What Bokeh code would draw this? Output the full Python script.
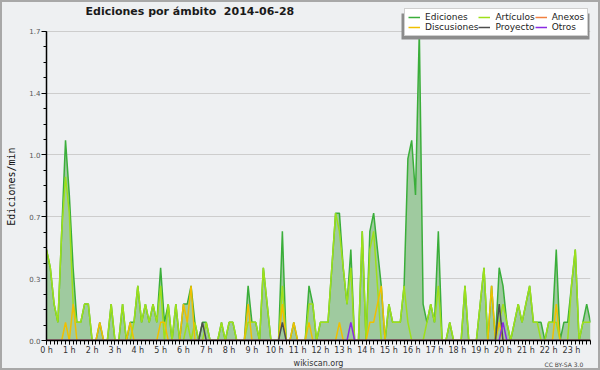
import numpy as np
from bokeh.plotting import figure
from bokeh.layouts import column
from bokeh.models import FixedTicker, Label, Legend, LegendItem, Range1d, BoxAnnotation
from bokeh.embed import file_html
from bokeh.resources import INLINE

# ---- data: edits per minute, one value per 10-minute slot (00:00 .. 23:50) ----
ediciones = [
    0.5, 0.4, 0.2, 0.1, 0.6, 1.1, 0.8, 0.4, 0.1, 0.1, 0.2, 0.2,
    0.0, 0.0, 0.1, 0.0, 0.0, 0.2, 0.0, 0.0, 0.2, 0.0, 0.1, 0.1,
    0.3, 0.1, 0.2, 0.1, 0.2, 0.1, 0.4, 0.1, 0.2, 0.0, 0.2, 0.0,
    0.2, 0.2, 0.3, 0.1, 0.0, 0.1, 0.1, 0.0, 0.0, 0.0, 0.1, 0.0,
    0.1, 0.1, 0.0, 0.0, 0.0, 0.3, 0.1, 0.1, 0.0, 0.4, 0.2, 0.0,
    0.0, 0.0, 0.6, 0.0, 0.0, 0.1, 0.0, 0.0, 0.0, 0.3, 0.2, 0.0,
    0.1, 0.1, 0.1, 0.4, 0.7, 0.7, 0.4, 0.2, 0.5, 0.0, 0.0, 0.6,
    0.0, 0.6, 0.7, 0.5, 0.3, 0.0, 0.2, 0.1, 0.1, 0.1, 0.3, 1.0,
    1.1, 0.8, 1.7, 0.2, 0.1, 0.2, 0.1, 0.6, 0.0, 0.0, 0.1, 0.0,
    0.0, 0.0, 0.3, 0.0, 0.0, 0.0, 0.2, 0.4, 0.0, 0.3, 0.0, 0.4,
    0.3, 0.1, 0.0, 0.1, 0.2, 0.1, 0.2, 0.3, 0.1, 0.1, 0.1, 0.0,
    0.1, 0.1, 0.5, 0.0, 0.1, 0.1, 0.3, 0.5, 0.0, 0.1, 0.2, 0.1,
]
articulos = [
    0.5, 0.4, 0.2, 0.1, 0.6, 0.9, 0.7, 0.2, 0.1, 0.1, 0.2, 0.2,
    0.0, 0.0, 0.0, 0.0, 0.0, 0.2, 0.0, 0.0, 0.2, 0.0, 0.0, 0.1,
    0.3, 0.1, 0.2, 0.1, 0.2, 0.1, 0.3, 0.0, 0.2, 0.0, 0.2, 0.0,
    0.0, 0.1, 0.0, 0.1, 0.0, 0.0, 0.1, 0.0, 0.0, 0.0, 0.1, 0.0,
    0.1, 0.1, 0.0, 0.0, 0.0, 0.1, 0.1, 0.1, 0.0, 0.4, 0.2, 0.0,
    0.0, 0.0, 0.3, 0.0, 0.0, 0.0, 0.0, 0.0, 0.0, 0.2, 0.2, 0.0,
    0.1, 0.1, 0.1, 0.4, 0.7, 0.6, 0.4, 0.2, 0.4, 0.0, 0.0, 0.6,
    0.0, 0.5, 0.6, 0.3, 0.0, 0.0, 0.2, 0.1, 0.1, 0.1, 0.3, 0.1,
    0.0, 0.0, 0.0, 0.0, 0.1, 0.2, 0.1, 0.3, 0.0, 0.0, 0.1, 0.0,
    0.0, 0.0, 0.3, 0.0, 0.0, 0.0, 0.2, 0.4, 0.0, 0.0, 0.0, 0.1,
    0.2, 0.1, 0.0, 0.1, 0.2, 0.1, 0.2, 0.3, 0.1, 0.1, 0.0, 0.0,
    0.1, 0.1, 0.1, 0.0, 0.0, 0.0, 0.3, 0.5, 0.0, 0.1, 0.1, 0.1,
]
discusiones = [
    0.0, 0.0, 0.0, 0.0, 0.0, 0.1, 0.0, 0.2, 0.0, 0.0, 0.0, 0.0,
    0.0, 0.0, 0.1, 0.0, 0.0, 0.0, 0.0, 0.0, 0.0, 0.0, 0.1, 0.0,
    0.0, 0.0, 0.0, 0.0, 0.0, 0.0, 0.1, 0.1, 0.0, 0.0, 0.0, 0.0,
    0.2, 0.1, 0.3, 0.0, 0.0, 0.0, 0.0, 0.0, 0.0, 0.0, 0.0, 0.0,
    0.0, 0.0, 0.0, 0.0, 0.0, 0.2, 0.0, 0.0, 0.0, 0.0, 0.0, 0.0,
    0.0, 0.0, 0.2, 0.0, 0.0, 0.1, 0.0, 0.0, 0.0, 0.1, 0.0, 0.0,
    0.0, 0.0, 0.0, 0.0, 0.0, 0.1, 0.0, 0.0, 0.0, 0.0, 0.0, 0.0,
    0.0, 0.1, 0.1, 0.2, 0.3, 0.0, 0.0, 0.0, 0.0, 0.0, 0.0, 0.0,
    0.0, 0.0, 0.0, 0.0, 0.0, 0.0, 0.0, 0.0, 0.0, 0.0, 0.0, 0.0,
    0.0, 0.0, 0.0, 0.0, 0.0, 0.0, 0.0, 0.0, 0.0, 0.3, 0.0, 0.1,
    0.0, 0.0, 0.0, 0.0, 0.0, 0.0, 0.0, 0.0, 0.0, 0.0, 0.0, 0.0,
    0.0, 0.0, 0.2, 0.0, 0.0, 0.0, 0.0, 0.0, 0.0, 0.0, 0.0, 0.0,
]
anexos = [
    0.0, 0.0, 0.0, 0.0, 0.0, 0.0, 0.0, 0.0, 0.0, 0.0, 0.0, 0.0,
    0.0, 0.0, 0.0, 0.0, 0.0, 0.0, 0.0, 0.0, 0.0, 0.0, 0.0, 0.0,
    0.0, 0.0, 0.0, 0.0, 0.0, 0.0, 0.0, 0.0, 0.0, 0.0, 0.0, 0.0,
    0.0, 0.0, 0.0, 0.0, 0.0, 0.0, 0.0, 0.0, 0.0, 0.0, 0.0, 0.0,
    0.0, 0.0, 0.0, 0.0, 0.0, 0.0, 0.0, 0.0, 0.0, 0.0, 0.0, 0.0,
    0.0, 0.0, 0.0, 0.0, 0.0, 0.0, 0.0, 0.0, 0.0, 0.0, 0.0, 0.0,
    0.0, 0.0, 0.0, 0.0, 0.0, 0.0, 0.0, 0.0, 0.0, 0.0, 0.0, 0.0,
    0.0, 0.0, 0.0, 0.0, 0.0, 0.0, 0.0, 0.0, 0.0, 0.0, 0.0, 0.0,
    0.0, 0.0, 0.0, 0.0, 0.0, 0.0, 0.0, 0.0, 0.0, 0.0, 0.0, 0.0,
    0.0, 0.0, 0.0, 0.0, 0.0, 0.0, 0.0, 0.0, 0.0, 0.0, 0.0, 0.0,
    0.0, 0.0, 0.0, 0.0, 0.0, 0.0, 0.0, 0.0, 0.0, 0.0, 0.0, 0.0,
    0.0, 0.0, 0.0, 0.0, 0.0, 0.0, 0.0, 0.0, 0.0, 0.0, 0.0, 0.0,
]
proyecto = [
    0.0, 0.0, 0.0, 0.0, 0.0, 0.0, 0.0, 0.0, 0.0, 0.0, 0.0, 0.0,
    0.0, 0.0, 0.0, 0.0, 0.0, 0.0, 0.0, 0.0, 0.0, 0.0, 0.0, 0.0,
    0.0, 0.0, 0.0, 0.0, 0.0, 0.0, 0.0, 0.0, 0.0, 0.0, 0.0, 0.0,
    0.0, 0.0, 0.0, 0.0, 0.0, 0.1, 0.0, 0.0, 0.0, 0.0, 0.0, 0.0,
    0.0, 0.0, 0.0, 0.0, 0.0, 0.0, 0.0, 0.0, 0.0, 0.0, 0.0, 0.0,
    0.0, 0.0, 0.1, 0.0, 0.0, 0.0, 0.0, 0.0, 0.0, 0.0, 0.0, 0.0,
    0.0, 0.0, 0.0, 0.0, 0.0, 0.0, 0.0, 0.0, 0.0, 0.0, 0.0, 0.0,
    0.0, 0.0, 0.0, 0.0, 0.0, 0.0, 0.0, 0.0, 0.0, 0.0, 0.0, 0.0,
    0.0, 0.0, 0.0, 0.0, 0.0, 0.0, 0.0, 0.0, 0.0, 0.0, 0.0, 0.0,
    0.0, 0.0, 0.0, 0.0, 0.0, 0.0, 0.0, 0.0, 0.0, 0.0, 0.0, 0.2,
    0.0, 0.0, 0.0, 0.0, 0.0, 0.0, 0.0, 0.0, 0.0, 0.0, 0.0, 0.0,
    0.0, 0.0, 0.0, 0.0, 0.0, 0.0, 0.0, 0.0, 0.0, 0.0, 0.0, 0.0,
]
otros = [
    0.0, 0.0, 0.0, 0.0, 0.0, 0.0, 0.0, 0.0, 0.0, 0.0, 0.0, 0.0,
    0.0, 0.0, 0.0, 0.0, 0.0, 0.0, 0.0, 0.0, 0.0, 0.0, 0.0, 0.0,
    0.0, 0.0, 0.0, 0.0, 0.0, 0.0, 0.0, 0.0, 0.0, 0.0, 0.0, 0.0,
    0.0, 0.0, 0.0, 0.0, 0.0, 0.0, 0.0, 0.0, 0.0, 0.0, 0.0, 0.0,
    0.0, 0.0, 0.0, 0.0, 0.0, 0.0, 0.0, 0.0, 0.0, 0.0, 0.0, 0.0,
    0.0, 0.0, 0.0, 0.0, 0.0, 0.0, 0.0, 0.0, 0.0, 0.0, 0.0, 0.0,
    0.0, 0.0, 0.0, 0.0, 0.0, 0.0, 0.0, 0.0, 0.1, 0.0, 0.0, 0.0,
    0.0, 0.0, 0.0, 0.0, 0.0, 0.0, 0.0, 0.0, 0.0, 0.0, 0.0, 0.0,
    0.0, 0.0, 0.0, 0.0, 0.0, 0.0, 0.0, 0.0, 0.0, 0.0, 0.0, 0.0,
    0.0, 0.0, 0.0, 0.0, 0.0, 0.0, 0.0, 0.0, 0.0, 0.0, 0.0, 0.0,
    0.1, 0.0, 0.0, 0.0, 0.0, 0.0, 0.0, 0.0, 0.0, 0.0, 0.0, 0.0,
    0.0, 0.0, 0.0, 0.0, 0.0, 0.0, 0.0, 0.0, 0.0, 0.0, 0.0, 0.0,
]

hour_ticks = list(range(24))
hour_labels = ["%d h" % h for h in hour_ticks]
y_ticks = [0, 0.34, 0.68, 1.02, 1.36, 1.7]
y_tick_labels = ["0.0", "0.3", "0.7", "1.0", "1.4", "1.7"]

series_names = ["Ediciones", "Artículos", "Discusiones", "Anexos", "Proyecto", "Otros"]
title_text = "Ediciones por ámbito\u00a0 2014-06-28"
y_label = "Ediciones/min"
footer_left = "wikiscan.org"
footer_right = "CC BY-SA 3.0"

# ---- layout constants (pixels) ----
BORDER = 2
W = 600 - 2 * BORDER          # 596
MAIN_H = 355
FOOT_H = 370 - 2 * BORDER - MAIN_H   # 11
BORDER_BOTTOM = 14
FRAME_H = MAIN_H - BORDER_BOTTOM     # frame reaches the top of the figure
TOP_PAD = 29                         # room above the 1.7 gridline
Y_MAX = 1.7
y_end = Y_MAX * FRAME_H / (FRAME_H - TOP_PAD)

n = len(ediciones)
x = np.arange(n) / 6.0  # hours

BG = "#eef0f2"
p = figure(width=W, height=MAIN_H, output_backend="svg", toolbar_location=None,
           title=None,
           x_range=Range1d(0, (n - 1) / 6.0), y_range=Range1d(0, y_end),
           min_border_left=44, min_border_right=8, min_border_top=0,
           min_border_bottom=BORDER_BOTTOM,
           background_fill_color=BG, border_fill_color=BG,
           outline_line_color=None)

p.xgrid.visible = False
p.ygrid.ticker = FixedTicker(ticks=y_ticks)
p.ygrid.grid_line_color = "#cdcdcd"
p.ygrid.grid_line_width = 1

p.xaxis.ticker = FixedTicker(ticks=hour_ticks, minor_ticks=list(x))
p.xaxis.major_label_overrides = dict(zip(hour_ticks, hour_labels))
p.yaxis.ticker = FixedTicker(ticks=y_ticks, minor_ticks=[k * 0.085 for k in range(21)])
p.yaxis.major_label_overrides = dict(zip(y_ticks, y_tick_labels))
p.yaxis.bounds = (0, Y_MAX)

for ax in (p.xaxis, p.yaxis):
    ax.axis_line_color = "black"
    ax.axis_line_width = 1.5
    ax.major_tick_line_color = "black"
    ax.minor_tick_line_color = "black"
    ax.major_tick_in = 0
    ax.minor_tick_in = 0
    ax.major_label_text_font = "DejaVu Sans"

p.xaxis.major_tick_out = 4
p.xaxis.minor_tick_out = 4
p.xaxis.major_label_text_font_size = "8px"
p.xaxis.major_label_text_color = "#333333"
p.xaxis.major_label_standoff = 1

p.yaxis.major_tick_out = 5
p.yaxis.minor_tick_out = 3
p.yaxis.major_label_text_font_size = "7px"
p.yaxis.major_label_text_color = "#555555"
p.yaxis.major_label_standoff = 1
p.yaxis.axis_label = y_label + "\u00a0" * 5
p.yaxis.axis_label_text_font = "DejaVu Sans Mono"
p.yaxis.axis_label_text_font_size = "10px"
p.yaxis.axis_label_text_font_style = "normal"
p.yaxis.axis_label_text_color = "#111111"
p.yaxis.axis_label_standoff = 9

# area + lines
p.varea(x=x, y1=0, y2=ediciones, fill_color="#9fca9f", fill_alpha=1.0)
colors = ["#3aae3a", "#9ee01a", "#f0c000", "#f08040", "#4d4d4d", "#8a2be2"]
data = [ediciones, articulos, discusiones, anexos, proyecto, otros]
renderers = {}
for name, col, ys in zip(series_names, colors, data):
    renderers[name] = p.line(x=x, y=ys, line_color=col, line_width=1.5)

# legend (with a drop shadow), placed relative to the frame's bottom-left
LEG_X, LEG_Y, LEG_W, LEG_H = 358, 304, 188, 26
p.add_layout(BoxAnnotation(left=LEG_X - 3, right=LEG_X - 3 + LEG_W,
                           bottom=LEG_Y - 3, top=LEG_Y - 3 + LEG_H,
                           left_units="screen", right_units="screen",
                           bottom_units="screen", top_units="screen",
                           fill_color="#8c8c8c", fill_alpha=1.0, line_color=None))
legend_order = ["Ediciones", "Discusiones", "Artículos", "Proyecto", "Anexos", "Otros"]
legend = Legend(items=[LegendItem(label=nm, renderers=[renderers[nm]]) for nm in legend_order],
                location=(LEG_X, LEG_Y), orientation="vertical", nrows=2,
                label_text_font="DejaVu Sans", label_text_font_size="9px",
                label_text_color="#222222",
                label_height=10, glyph_height=10, glyph_width=12,
                label_standoff=5, spacing=0, padding=3, margin=0,
                border_line_color="#a0a0a0", border_line_width=1.5,
                background_fill_color="white", background_fill_alpha=1.0)
p.add_layout(legend, "center")

p.add_layout(Label(x=39, y=FRAME_H - 12, x_units="screen", y_units="screen", text=title_text,
                   text_font="DejaVu Sans", text_font_style="bold", text_font_size="11px",
                   text_align="left", text_baseline="middle", text_color="#1a1a1a"))

# footer strip
f = figure(width=W, height=FOOT_H, output_backend="svg", toolbar_location=None,
           title=None, x_axis_type=None, y_axis_type=None,
           x_range=Range1d(0, W), y_range=Range1d(0, FOOT_H),
           min_border_left=0, min_border_right=0, min_border_top=0, min_border_bottom=0,
           background_fill_color=BG, border_fill_color=BG, outline_line_color=None)
f.add_layout(Label(x=298, y=6, text=footer_left, text_font="DejaVu Sans",
                   text_font_size="8px", text_align="center", text_baseline="middle",
                   text_color="#333333"))
f.add_layout(Label(x=588, y=5.5, text=footer_right, text_font="DejaVu Sans",
                   text_font_size="6px", text_align="right", text_baseline="middle",
                   text_color="#444444"))

layout = column(p, f, spacing=0,
                styles={"border": "%dpx solid #a8a8a8" % BORDER, "background-color": BG})
open("out.html", "w").write(file_html(layout, INLINE))
